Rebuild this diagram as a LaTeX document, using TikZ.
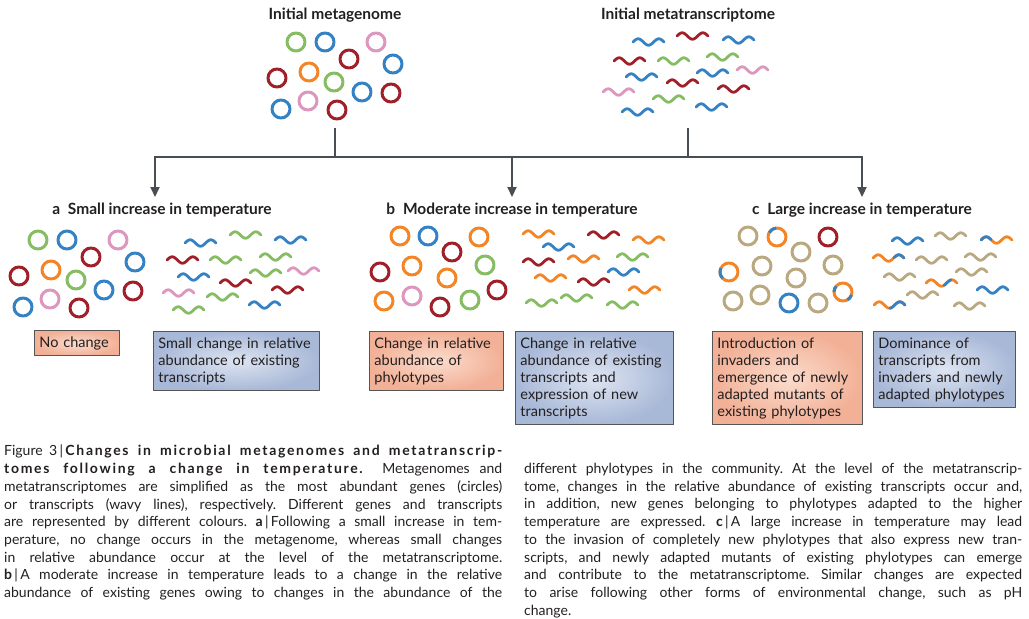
\documentclass[tikz,border=0pt]{standalone}
\usepackage{fontspec}
\setmainfont{Lato}
\usetikzlibrary{arrows.meta}

\definecolor{gGreen}{RGB}{134,188,98}
\definecolor{gBlue}{RGB}{52,130,196}
\definecolor{gPink}{RGB}{221,150,190}
\definecolor{gRed}{RGB}{160,32,42}
\definecolor{gOrange}{RGB}{243,133,38}
\definecolor{gTan}{RGB}{186,168,128}
\definecolor{linkGray}{RGB}{72,78,84}
\definecolor{boxLine}{RGB}{85,85,85}
\definecolor{pinkIn}{RGB}{251,220,205}
\definecolor{pinkOut}{RGB}{242,176,150}
\definecolor{blueIn}{RGB}{222,229,242}
\definecolor{blueOut}{RGB}{168,184,215}
\definecolor{txt}{RGB}{35,31,32}

\begin{document}
\begin{tikzpicture}[
    x=1pt,
    y=-1pt,
    line cap=round,
    line join=round,
    gene/.style={line width=3pt},
    wavy/.style={line width=2.8pt},
    link/.style={line width=2.2pt,draw=linkGray,line cap=rect,line join=miter},
    arrow/.style={link,-{Triangle[length=10pt,width=9pt]}},
    heading/.style={font=\bfseries\fontsize{15.5}{17}\selectfont,text=txt},
    genome/.style={draw=boxLine,line width=0.9pt,inner color=pinkIn,outer color=pinkOut,
        anchor=north west,align=left,inner xsep=5pt,inner ysep=6pt,
        font=\fontsize{14.5}{17}\selectfont,text=txt},
    transcriptome/.style={genome,inner color=blueIn,outer color=blueOut},
    caption/.style={anchor=north west,inner sep=0pt,text width=498pt,align=justify,
        font=\fontsize{14}{17.7}\selectfont,text=txt}
]

\useasboundingbox (0,0) rectangle (1029,619);

% -------------------------------------------------
% Initial state
% -------------------------------------------------

\node[heading] (mgTitle) at (335,15) {Initial metagenome};
\node[heading] (mtTitle) at (688,15) {Initial metatranscriptome};

\foreach \x/\y/\c in {296/42/gGreen,325/42/gBlue,376/42/gPink,349/59/gRed,393/64/gBlue,
    277/78/gRed,309/72/gOrange,334/82/gGreen,362/92/gBlue,391/93/gRed,
    281/109/gBlue,308/101/gPink,337/110/gRed}
  \draw[gene,\c] (\x,\y) circle (9pt);

\foreach \x/\y/\c in {633/42/gBlue,677/36/gRed,723/40/gBlue,614/61/gRed,658/61/gGreen,
    707/57/gGreen,626/77/gBlue,697/73/gBlue,737/70/gPink,667/83/gRed,
    603/92/gPink,718/89/gRed,653/99/gGreen,622/112/gBlue,696/107/gBlue}
  \draw[wavy,\c] plot[variable=\t,domain=0:31,samples=40] ({\x+\t},{\y-3.2*sin(17.42*\t)});

% -------------------------------------------------
% Branches
% -------------------------------------------------

\coordinate (mgFoot) at (335,129);
\coordinate (mtFoot) at (688,129);
\coordinate (barA)   at (155,157);
\coordinate (barC)   at (862,157);
\coordinate (tipA)   at (155,197);
\coordinate (tipB)   at (512,197);
\coordinate (tipC)   at (862,197);

\draw[link] (mgFoot) -- (mgFoot |- barA);
\draw[link] (mtFoot) -- (mtFoot |- barA);
\draw[arrow] (barA) -- (barC) -- (tipC);
\draw[arrow] (barA) -- (tipA);
\draw[arrow] (tipB |- barA) -- (tipB);

% -------------------------------------------------
% a: small increase
% -------------------------------------------------

\node[heading] (aTitle) at (162,210) {a\enspace Small increase in temperature};

\foreach \x/\y/\c in {38/240/gGreen,67/240/gBlue,118/240/gPink,91/257/gRed,135/262/gBlue,
    19/276/gRed,51/270/gOrange,76/280/gGreen,104/290/gBlue,133/291/gRed,
    23/307/gBlue,50/299/gPink,79/308/gRed}
  \draw[gene,\c] (\x,\y) circle (9pt);

\foreach \x/\y/\c in {185/243/gBlue,230/235/gGreen,275/240/gBlue,167/260/gRed,210/260/gGreen,
    260/257/gGreen,178/277/gBlue,250/273/gGreen,288/271/gPink,220/283/gRed,
    163/293/gPink,272/290/gRed,207/297/gGreen,173/310/gGreen,249/305/gBlue}
  \draw[wavy,\c] plot[variable=\t,domain=0:31,samples=40] ({\x+\t},{\y-3.2*sin(17.42*\t)});

\node[genome,text width=75pt] (aGen) at (34,330) {No change};
\node[transcriptome,text width=156pt] (aTra) at (153,331)
    {\hyphenpenalty=10000 Small change in relative\\abundance of existing\\transcripts};

% -------------------------------------------------
% b: moderate increase
% -------------------------------------------------

\node[heading] (bTitle) at (512,210) {b\enspace Moderate increase in temperature};

\foreach \x/\y/\c in {400/236/gOrange,428/236/gBlue,479/237/gOrange,452/252/gRed,485/265/gGreen,
    380/272/gRed,412/266/gOrange,447/278/gOrange,497/290/gRed,470/300/gGreen,
    384/301/gOrange,412/296/gPink,440/307/gRed}
  \draw[gene,\c] (\x,\y) circle (9pt);

\foreach \x/\y/\c in {523/234/gOrange,588/235/gRed,633/240/gOrange,543/247/gBlue,523/262/gRed,
    568/259/gOrange,617/257/gGreen,608/272/gBlue,535/278/gOrange,578/282/gRed,
    629/290/gOrange,526/303/gGreen,561/298/gGreen,607/305/gGreen}
  \draw[wavy,\c] plot[variable=\t,domain=0:31,samples=40] ({\x+\t},{\y-3.2*sin(17.42*\t)});

\node[genome,text width=124pt] (bGen) at (369,331)
    {\hyphenpenalty=10000 Change in relative\\abundance of\\phylotypes};
\node[transcriptome,text width=148pt] (bTra) at (515,331)
    {\hyphenpenalty=10000 Change in relative\\abundance of existing\\transcripts and\\expression of new\\transcripts};

% -------------------------------------------------
% c: large increase
% -------------------------------------------------

\node[heading] (cTitle) at (862,210) {c\enspace Large increase in temperature};

\foreach \x/\y/\c in {748/236/gTan,777/237/gOrange,828/237/gRed,801/252/gTan,833/265/gTan,
    729/272/gOrange,762/266/gTan,796/278/gTan,843/292/gOrange,733/301/gTan,
    760/295/gTan,789/303/gBlue,818/303/gTan}
  \draw[gene,\c] (\x,\y) circle (9pt);

% mutated parts of genes
\foreach \x/\y/\a/\b in {777/237/95/150,729/272/155/225,843/292/140/180,843/292/300/340}
  \draw[gene,gBlue,line cap=butt] (\x,\y) ++(\a:9pt) arc[start angle=\a,end angle=\b,radius=9pt];

\foreach \x/\y/\c in {892/241/gBlue,935/236/gTan,981/240/gOrange,873/258/gOrange,916/260/gTan,
    965/257/gTan,884/277/gTan,956/272/gTan,926/283/gOrange,977/290/gBlue,
    907/295/gTan,874/305/gOrange,954/306/gTan}
  \draw[wavy,\c] plot[variable=\t,domain=0:31,samples=40] ({\x+\t},{\y-3.2*sin(17.42*\t)});

% mutated parts of transcripts
\foreach \x/\y/\s/\e in {981/240/0/10,873/258/21/31,926/283/18/25,874/305/16/31}
  \draw[wavy,gBlue] plot[variable=\t,domain=\s:\e,samples=15] ({\x+\t},{\y-3.2*sin(17.42*\t)});

\node[genome,text width=140pt] (cGen) at (712,331)
    {\hyphenpenalty=10000 Introduction of\\invaders and\\emergence of newly\\adapted mutants of\\existing phylotypes};
\node[transcriptome,text width=132pt] (cTra) at (873,331)
    {\hyphenpenalty=10000 Dominance of\\transcripts from\\invaders and newly\\adapted phylotypes};

% -------------------------------------------------
% Caption
% -------------------------------------------------

\node[caption] (capLeft) at (4,445) {\frenchspacing\tolerance=10000\hyphenpenalty=10000
Figure 3\,|\,{\bfseries\addfontfeatures{LetterSpace=12}Changes in microbial metagenomes and metatranscrip-}\linebreak
{\bfseries\addfontfeatures{LetterSpace=12}tomes following a change in temperature.}\ \ Metagenomes and\linebreak
metatranscriptomes are simplified as the most abundant genes (circles)\linebreak
or transcripts (wavy lines), respectively. Different genes and transcripts\linebreak
are represented by different colours. \textbf{a}\,|\,Following a small increase in tem-\linebreak
perature, no change occurs in the metagenome, whereas small changes\linebreak
in relative abundance occur at the level of the metatranscriptome.\linebreak
\textbf{b}\,|\,A moderate increase in temperature leads to a change in the relative\linebreak
abundance of existing genes owing to changes in the abundance of the\parfillskip=0pt\par};

\node[caption] (capRight) at (524,463) {\frenchspacing\tolerance=10000\hyphenpenalty=10000
different phylotypes in the community. At the level of the metatranscrip-\linebreak
tome, changes in the relative abundance of existing transcripts occur and,\linebreak
in addition, new genes belonging to phylotypes adapted to the higher\linebreak
temperature are expressed. \textbf{c}\,|\,A large increase in temperature may lead\linebreak
to the invasion of completely new phylotypes that also express new tran-\linebreak
scripts, and newly adapted mutants of existing phylotypes can emerge\linebreak
and contribute to the metatranscriptome. Similar changes are expected\linebreak
to arise following other forms of environmental change, such as pH\linebreak
change.};

\end{tikzpicture}
\end{document}
